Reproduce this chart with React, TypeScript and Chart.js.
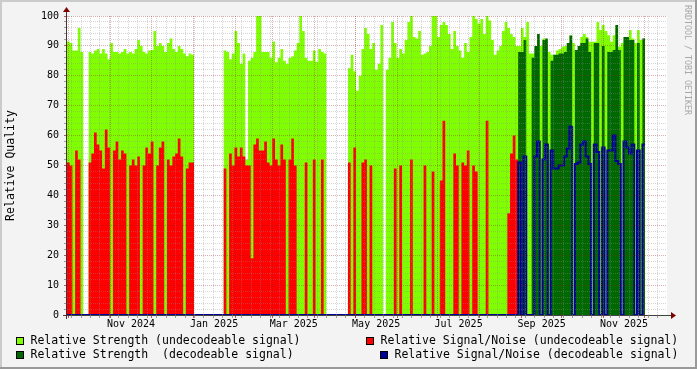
import React, { useEffect, useRef } from "react";
import { Chart, registerables } from "chart.js";

Chart.register(...registerables);

// ---- time base -------------------------------------------------------------
const DAY_MS = 86400000;
const START_MS = Date.UTC(2024, 8, 29, 14, 24); // left edge of the graph
const SPAN_DAYS = 444.2; // width of the graph in days
const COL_DAYS = 2; // one consolidated value every 2 days

// ---- data (one value per 2-day column, starting at the left edge) -----------
const STRENGTH_UNDECODEABLE = [
  91.5, 91, 88.5, 88.5, 96, 88, 0, 0, 88, 87.5,
  88.5, 89, 87.5, 89, 87.5, 85.5, 91, 88, 88, 87.5,
  88, 89, 87.5, 88, 87.5, 89, 92, 90, 88, 87.5,
  88.5, 88.6, 95, 90, 91, 90, 88, 91, 92.5, 89,
  88, 90, 89, 87.5, 86.5, 87.5, 87, 0, 0, 0,
  0, 0, 0, 0, 0, 0, 0, 0, 88.5, 88,
  85.5, 87.5, 95, 91, 84, 87.5, 52, 85, 86, 88,
  100, 100, 88, 88, 88, 86, 91.5, 84.5, 86, 89,
  85, 84, 86, 86.5, 88.5, 91, 100, 95, 86, 85,
  85, 88.5, 84.7, 89, 88, 87.5, 0, 0, 0, 0,
  0, 0, 0, 0, 82.5, 87, 81.5, 75, 80, 89,
  96, 94, 89, 91, 82, 84, 97, 0, 82, 86,
  98, 91, 86, 89, 87.5, 92, 98, 100, 93, 92.5,
  95, 87, 87.5, 88, 90, 100, 100, 93, 97, 98,
  97, 94, 89, 95, 90, 88.5, 86, 91, 88, 93,
  100, 99, 97.5, 99, 94, 100, 98.5, 92, 87, 88.5,
  90, 95, 98, 96, 94, 93, 90, 90, 96, 93,
  98, 87.5, 87.5, 89, 92, 90, 92.5, 89, 88, 87,
  87, 88.5, 89, 89.7, 90, 91, 93.5, 91, 88.6, 88.6,
  93, 94, 93, 91.4, 91.4, 91.4, 98, 95.3, 97, 95,
  93.6, 91.4, 93.6, 97, 89.7, 91, 93, 93, 95.3, 92.5,
  91, 95.3, 92, 92.5,
];

const SNR_UNDECODEABLE = [
  51, 50, 0, 55, 52, 0, 0, 0, 51, 54,
  61, 57, 55, 49, 62, 56, 0, 55, 58, 52,
  55, 54, 0, 50, 52, 50, 53, 0, 50, 56,
  54, 58, 0, 50, 56, 58, 0, 52, 50, 53,
  54, 59, 53, 0, 49, 51, 51, 0, 0, 0,
  0, 0, 0, 0, 0, 0, 0, 0, 49, 0,
  54, 50, 56, 53, 56, 53, 50, 50, 19, 57,
  59, 55, 55, 58, 51, 50, 59, 52, 50, 57,
  52, 0, 52, 59, 50, 0, 0, 0, 51, 0,
  0, 52, 0, 0, 52, 0, 0, 0, 0, 0,
  0, 0, 0, 0, 51, 0, 56, 0, 0, 51,
  52, 0, 50, 0, 0, 0, 0, 0, 0, 0,
  0, 49, 0, 50, 0, 0, 0, 52, 0, 0,
  0, 0, 50, 0, 0, 48, 0, 0, 45, 65,
  0, 0, 0, 54, 50, 0, 51, 50, 55, 0,
  50, 48, 0, 0, 0, 65, 0, 0, 0, 0,
  0, 0, 0, 34, 54, 60, 52, 0, 0, 0,
  0, 0, 0, 0, 0, 0, 0, 0, 0, 0,
  0, 0, 0, 0, 0, 0, 0, 0, 0, 0,
  0, 0, 0, 0, 0, 0, 0, 0, 0, 0,
  0, 0, 0, 0, 0, 0, 0, 0, 0, 0,
  0, 0, 0, 0,
];

const STRENGTH_DECODEABLE = [
  0, 0, 0, 0, 0, 0, 0, 0, 0, 0,
  0, 0, 0, 0, 0, 0, 0, 0, 0, 0,
  0, 0, 0, 0, 0, 0, 0, 0, 0, 0,
  0, 0, 0, 0, 0, 0, 0, 0, 0, 0,
  0, 0, 0, 0, 0, 0, 0, 0, 0, 0,
  0, 0, 0, 0, 0, 0, 0, 0, 0, 0,
  0, 0, 0, 0, 0, 0, 0, 0, 0, 0,
  0, 0, 0, 0, 0, 0, 0, 0, 0, 0,
  0, 0, 0, 0, 0, 0, 0, 0, 0, 0,
  0, 0, 0, 0, 0, 0, 0, 0, 0, 0,
  0, 0, 0, 0, 0, 0, 0, 0, 0, 0,
  0, 0, 0, 0, 0, 0, 0, 0, 0, 0,
  0, 0, 0, 0, 0, 0, 0, 0, 0, 0,
  0, 0, 0, 0, 0, 0, 0, 0, 0, 0,
  0, 0, 0, 0, 0, 0, 0, 0, 0, 0,
  0, 0, 0, 0, 0, 0, 0, 0, 0, 0,
  0, 0, 0, 0, 0, 0, 0, 88, 88, 92,
  0, 0, 86, 90, 94, 0, 92, 92.5, 0, 85,
  87, 87, 87.5, 87.5, 88, 91, 93.5, 0, 88.6, 90,
  91, 91, 92.5, 88, 0, 91, 91, 0, 90, 0,
  88, 88, 88.6, 97, 88.6, 0, 93, 93, 92, 92,
  0, 91, 0, 92.5,
];

const SNR_DECODEABLE = [
  0, 0, 0, 0, 0, 0, 0, 0, 0, 0,
  0, 0, 0, 0, 0, 0, 0, 0, 0, 0,
  0, 0, 0, 0, 0, 0, 0, 0, 0, 0,
  0, 0, 0, 0, 0, 0, 0, 0, 0, 0,
  0, 0, 0, 0, 0, 0, 0, 0, 0, 0,
  0, 0, 0, 0, 0, 0, 0, 0, 0, 0,
  0, 0, 0, 0, 0, 0, 0, 0, 0, 0,
  0, 0, 0, 0, 0, 0, 0, 0, 0, 0,
  0, 0, 0, 0, 0, 0, 0, 0, 0, 0,
  0, 0, 0, 0, 0, 0, 0, 0, 0, 0,
  0, 0, 0, 0, 0, 0, 0, 0, 0, 0,
  0, 0, 0, 0, 0, 0, 0, 0, 0, 0,
  0, 0, 0, 0, 0, 0, 0, 0, 0, 0,
  0, 0, 0, 0, 0, 0, 0, 0, 0, 0,
  0, 0, 0, 0, 0, 0, 0, 0, 0, 0,
  0, 0, 0, 0, 0, 0, 0, 0, 0, 0,
  0, 0, 0, 0, 0, 0, 0, 51, 0, 53,
  0, 0, 0, 53, 58, 0, 52, 57, 0, 55,
  49, 49, 50, 50, 53, 55.7, 63, 0, 50.5, 51,
  57, 58, 53, 50.5, 0, 57, 54.5, 0, 56, 0,
  55, 55, 60, 51.5, 50.5, 0, 58, 56, 54, 57,
  0, 55, 0, 57,
];

// ---- axis / legend text ----------------------------------------------------
const MONTH_LABELS = ["Nov 2024", "Jan 2025", "Mar 2025", "May 2025", "Jul 2025", "Sep 2025", "Nov 2025"];
const LABEL_MONTHS: [number, number][] = [[2024, 10], [2025, 0], [2025, 2], [2025, 4], [2025, 6], [2025, 8], [2025, 10]];
const FIRST_WEEK_LINE: [number, number, number] = [2024, 9, 3];
const Y_MIN = 0;
const Y_MAX = 100;
const Y_MINOR = 2;
const Y_MAJOR = 10;
const Y_TITLE = "Relative Quality";
const WATERMARK = "RRDTOOL / TOBI OETIKER";

const C_LIGHT = "#80FF00";
const C_RED = "#FF0000";
const C_DARK = "#006800";
const C_BLUE = "#000096";

const LEGEND_ITEMS = [
  { text: "Relative Strength (undecodeable signal)", color: C_LIGHT, x: 30.5, row: 0 },
  { text: "Relative Signal/Noise (undecodeable signal)", color: C_RED, x: 380.5, row: 0 },
  { text: "Relative Strength  (decodeable signal)", color: C_DARK, x: 30.5, row: 1 },
  { text: "Relative Signal/Noise (decodeable signal)", color: C_BLUE, x: 394.5, row: 1 },
];

const FONT = "'DejaVu Sans Mono', 'Liberation Mono', monospace";

type XTick = { value: number; label: string; kind: "minor" | "major" | "label" };

const dayOf = (y: number, m: number, d = 1) => (Date.UTC(y, m, d) - START_MS) / DAY_MS;

function buildXTicks(): XTick[] {
  const out: XTick[] = [];
  for (let w = dayOf(...FIRST_WEEK_LINE); w <= SPAN_DAYS; w += 7) {
    if (w >= 0) out.push({ value: w, label: "", kind: "minor" });
  }
  let y = 2024;
  let m = 9;
  for (;;) {
    const d = dayOf(y, m);
    if (d > SPAN_DAYS) break;
    if (d >= 0) out.push({ value: d, label: "", kind: "major" });
    m++;
    if (m > 11) { m = 0; y++; }
  }
  LABEL_MONTHS.forEach(([yy, mm], i) => {
    const a = dayOf(yy, mm);
    const b = dayOf(yy, mm + 1);
    out.push({ value: (a + b) / 2, label: MONTH_LABELS[i], kind: "label" });
  });
  out.sort((p, q) => p.value - q.value);
  return out;
}

const X_TICKS = buildXTicks();
const Y_TICKS: number[] = [];
for (let v = Y_MIN; v <= Y_MAX; v += Y_MINOR) Y_TICKS.push(v);

const toPoints = (vals: number[]) => {
  const pts = vals.map((v, i) => ({ x: i * COL_DAYS, y: v }));
  pts.push({ x: vals.length * COL_DAYS, y: vals[vals.length - 1] });
  return pts;
};

const GRID_MINOR = "rgba(140,140,140,0.36)";
const GRID_MAJOR = "rgba(150,30,30,0.36)";
const TICK_MINOR = "rgba(120,120,120,0.7)";
const TICK_MAJOR = "rgba(130,30,30,0.7)";

const rrdPlugin = {
  id: "rrdDecor",
  beforeDraw(chart: any) {
    const { ctx, chartArea: a, width, height } = chart;
    ctx.save();
    ctx.fillStyle = "#F3F3F3";
    ctx.fillRect(0, 0, width, height);
    ctx.fillStyle = "#FFFFFF";
    ctx.fillRect(a.left, a.top, a.right - a.left, a.bottom - a.top);
    ctx.restore();
  },
  beforeDatasetsDraw(chart: any) {
    const { ctx, chartArea: a } = chart;
    ctx.save();
    ctx.strokeStyle = "#2C4D43";
    ctx.lineWidth = 1;
    ctx.beginPath();
    ctx.moveTo(a.left - 4, Math.round(a.bottom) + 0.5);
    ctx.lineTo(a.right + 4, Math.round(a.bottom) + 0.5);
    ctx.stroke();
    ctx.restore();
  },
  afterDraw(chart: any) {
    const { ctx, chartArea: a, width, height } = chart;
    ctx.save();
    // y axis line
    const ax = Math.round(a.left) - 0.5;
    ctx.strokeStyle = "#4A3030";
    ctx.lineWidth = 1;
    ctx.beginPath();
    ctx.moveTo(ax, a.bottom + 4);
    ctx.lineTo(ax, a.top - 4);
    ctx.stroke();
    // arrows
    ctx.fillStyle = "#7F0000";
    ctx.beginPath();
    ctx.moveTo(ax - 3.5, a.top - 4);
    ctx.lineTo(ax + 3.5, a.top - 4);
    ctx.lineTo(ax, a.top - 9);
    ctx.closePath();
    ctx.fill();
    const by = Math.round(a.bottom) + 0.5;
    ctx.beginPath();
    ctx.moveTo(a.right + 4, by - 3.5);
    ctx.lineTo(a.right + 4, by + 3.5);
    ctx.lineTo(a.right + 9, by);
    ctx.closePath();
    ctx.fill();

    // y title
    ctx.fillStyle = "#000";
    ctx.font = `11.5px ${FONT}`;
    ctx.textAlign = "center";
    ctx.textBaseline = "middle";
    ctx.translate(11, (a.top + a.bottom) / 2);
    ctx.rotate(-Math.PI / 2);
    ctx.fillText(Y_TITLE, 0, 0);
    ctx.setTransform(1, 0, 0, 1, 0, 0);

    // watermark
    ctx.fillStyle = "#A8A8A8";
    ctx.font = `8.3px ${FONT}`;
    ctx.textAlign = "left";
    ctx.translate(687, 5);
    ctx.rotate(Math.PI / 2);
    ctx.fillText(WATERMARK, 0, 0);
    ctx.setTransform(1, 0, 0, 1, 0, 0);

    // legend
    ctx.font = `11.5px ${FONT}`;
    ctx.textAlign = "left";
    ctx.textBaseline = "middle";
    LEGEND_ITEMS.forEach((it) => {
      const cy = 341 + it.row * 14;
      const bx = Math.round(it.x - 15);
      const byy = Math.round(cy - 4);
      ctx.fillStyle = it.color;
      ctx.fillRect(bx, byy, 8, 8);
      ctx.strokeStyle = "#000";
      ctx.lineWidth = 1;
      ctx.strokeRect(bx + 0.5, byy + 0.5, 7, 7);
      ctx.fillStyle = "#000";
      ctx.fillText(it.text, it.x, cy + 0.5);
    });

    // 3D frame
    ctx.fillStyle = "#CBCBCB";
    ctx.fillRect(0, 0, width, 2);
    ctx.fillRect(0, 0, 2, height);
    ctx.fillStyle = "#999999";
    ctx.fillRect(0, height - 2, width, 2);
    ctx.fillRect(width - 2, 0, 2, height);
    ctx.restore();
  },
};

export default function App() {
  const ref = useRef<HTMLCanvasElement | null>(null);

  useEffect(() => {
    const canvas = ref.current;
    if (!canvas) return;
    Chart.defaults.font.family = FONT;

    const area = (label: string, vals: number[], color: string, order: number) => ({
      label,
      data: toPoints(vals),
      stepped: true,
      fill: "origin",
      backgroundColor: color,
      borderColor: "rgba(0,0,0,0)",
      borderWidth: 0,
      pointRadius: 0,
      pointHoverRadius: 0,
      order,
    });

    const chart = new Chart(canvas, {
      type: "line",
      data: {
        datasets: [
          {
            label: "Relative Signal/Noise (decodeable signal)",
            data: toPoints(SNR_DECODEABLE),
            stepped: true,
            fill: false,
            borderColor: C_BLUE,
            borderWidth: 2,
            pointRadius: 0,
            pointHoverRadius: 0,
            order: 1,
          } as any,
          area("Relative Strength  (decodeable signal)", STRENGTH_DECODEABLE, C_DARK, 2),
          area("Relative Signal/Noise (undecodeable signal)", SNR_UNDECODEABLE, C_RED, 3),
          area("Relative Strength (undecodeable signal)", STRENGTH_UNDECODEABLE, C_LIGHT, 4),
        ],
      },
      options: {
        animation: false,
        responsive: false,
        devicePixelRatio: 1,
        events: [],
        layout: { padding: { left: 0, top: 16, right: 30, bottom: 34 } },
        plugins: { legend: { display: false }, tooltip: { enabled: false } },
        scales: {
          x: {
            type: "linear",
            position: "bottom",
            min: 0,
            max: SPAN_DAYS,
            afterBuildTicks: (s: any) => {
              s.ticks = X_TICKS.map((t) => ({ value: t.value }));
            },
            afterFit: (s: any) => {
              s.height = 20;
            },
            grid: {
              z: 1,
              color: (c: any) => {
                const t = X_TICKS[c.index];
                if (!t || t.kind === "label") return "rgba(0,0,0,0)";
                return t.kind === "major" ? GRID_MAJOR : GRID_MINOR;
              },
              tickColor: (c: any) => {
                const t = X_TICKS[c.index];
                if (!t || t.kind === "label") return "rgba(0,0,0,0)";
                return t.kind === "major" ? TICK_MAJOR : TICK_MINOR;
              },
              tickLength: 3,
              lineWidth: 1,
            },
            border: { display: false, dash: [1, 1] },
            ticks: {
              autoSkip: false,
              maxRotation: 0,
              minRotation: 0,
              padding: 0,
              color: "#000",
              font: { size: 10, family: FONT },
              callback: (_v: any, i: number) => (X_TICKS[i] ? X_TICKS[i].label : ""),
            },
          },
          y: {
            type: "linear",
            position: "left",
            min: Y_MIN,
            max: Y_MAX,
            afterBuildTicks: (s: any) => {
              s.ticks = Y_TICKS.map((v) => ({ value: v }));
            },
            afterFit: (s: any) => {
              s.width = 67;
            },
            grid: {
              z: 1,
              color: (c: any) => {
                const v = c.tick ? c.tick.value : 0;
                return v % Y_MAJOR === 0 ? GRID_MAJOR : GRID_MINOR;
              },
              tickColor: (c: any) => {
                const v = c.tick ? c.tick.value : 0;
                return v % Y_MAJOR === 0 ? TICK_MAJOR : TICK_MINOR;
              },
              tickLength: 3,
              lineWidth: 1,
            },
            border: { display: false, dash: [1, 1] },
            ticks: {
              autoSkip: false,
              padding: 5,
              color: "#000",
              font: { size: 10, family: FONT },
              callback: (v: any) => (Number(v) % Y_MAJOR === 0 ? String(v) : ""),
            },
          },
        },
      } as any,
      plugins: [rrdPlugin],
    });

    return () => chart.destroy();
  }, []);

  return (
    <div style={{ position: "fixed", left: 0, top: 0, width: 697, height: 369 }}>
      <canvas ref={ref} width={697} height={369} style={{ display: "block", width: 697, height: 369 }} />
    </div>
  );
}
